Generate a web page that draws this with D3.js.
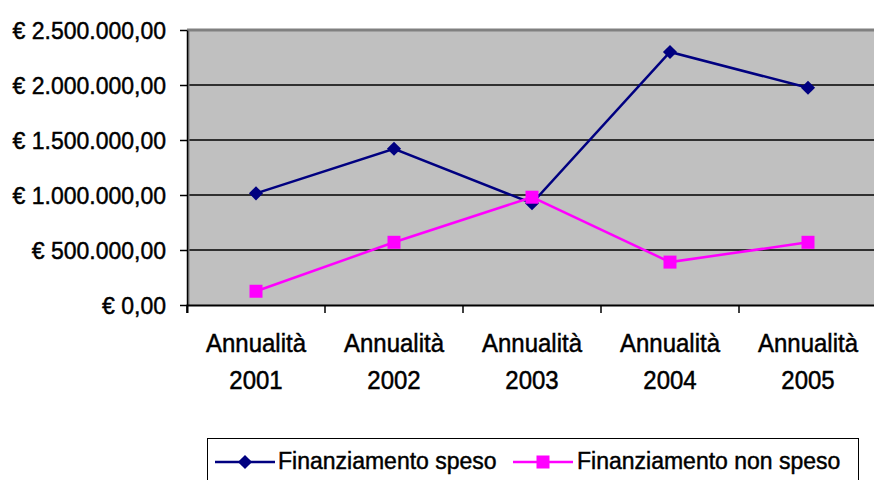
<!DOCTYPE html>
<html>
<head>
<meta charset="utf-8">
<script src="https://cdn.jsdelivr.net/npm/d3@7"></script>
<style>
  body { margin: 0; background: #fff; }
  svg text { font-family: "Liberation Sans", Arial, sans-serif; fill: #000; stroke: #000; stroke-width: 0.45px; }
</style>
</head>
<body>
<div id="chart"></div>
<script>
// data
var anni = ["2001", "2002", "2003", "2004", "2005"];
var speso = [1015000, 1420000, 925000, 2300000, 1975000];
var nonSpeso = [125000, 570000, 980000, 390000, 570000];
var yTicks = [0, 500000, 1000000, 1500000, 2000000, 2500000];

var W = 874, H = 480;
var pLeft = 187, pRight = 877, pTop = 30, pBottom = 305;

var svg = d3.select("#chart").append("svg")
    .attr("width", W).attr("height", H);

var x = d3.scaleBand().domain(anni).range([pLeft, pRight]);
var y = d3.scaleLinear().domain([0, 2500000]).range([pBottom, pTop]);

// euro format, italian style
var it = d3.formatLocale({decimal: ",", thousands: ".", grouping: [3], currency: ["€ ", ""]});
var fmt = function (v) { return "€ " + it.format(",.2f")(v); };

// plot area
svg.append("rect")
    .attr("x", pLeft).attr("y", pTop)
    .attr("width", pRight - pLeft).attr("height", pBottom - pTop)
    .attr("fill", "#c0c0c0");

// grid lines
svg.selectAll(".grid").data(yTicks.slice(1, -1)).enter().append("line")
    .attr("x1", pLeft).attr("x2", pRight)
    .attr("y1", function (d) { return y(d); }).attr("y2", function (d) { return y(d); })
    .attr("stroke", "#000").attr("stroke-width", 1.5);

// top border
svg.append("line")
    .attr("x1", pLeft).attr("x2", pRight).attr("y1", pTop).attr("y2", pTop)
    .attr("stroke", "#808080").attr("stroke-width", 3);

// left border gray
svg.append("line")
    .attr("x1", pLeft + 1.5).attr("x2", pLeft + 1.5).attr("y1", pTop).attr("y2", pBottom)
    .attr("stroke", "#808080").attr("stroke-width", 2);

// y axis
var yAxis = d3.axisLeft(y).tickValues(yTicks).tickSize(7).tickSizeOuter(0).tickFormat(fmt).tickPadding(14);
var gy = svg.append("g").attr("transform", "translate(" + pLeft + ",0)").call(yAxis);
gy.select(".domain").attr("stroke", "#000").attr("stroke-width", 1.5);
gy.selectAll(".tick line").attr("stroke", "#000").attr("stroke-width", 1.5);
gy.selectAll(".tick text")
    .style("font-size", "23px")
    .attr("dy", "0.36em");

// x axis
var xAxis = d3.axisBottom(x).tickSize(8).tickSizeOuter(8).tickFormat("");
var gx = svg.append("g").attr("transform", "translate(0," + pBottom + ")").call(xAxis);
gx.select(".domain").attr("stroke", "#000").attr("stroke-width", 2);
// category ticks sit on band edges
gx.selectAll(".tick").attr("transform", function (d) { return "translate(" + x(d) + ",0)"; });
gx.selectAll(".tick line").attr("stroke", "#000").attr("stroke-width", 1.5);

// two-line category labels, a bit taller like the original
var lab = svg.append("g").selectAll("g").data(anni).enter().append("g");
lab.append("text").attr("text-anchor", "middle")
    .attr("transform", function (d) { return "translate(" + (x(d) + x.bandwidth() / 2) + ",352) scale(1,1.1)"; })
    .style("font-size", "24px").text("Annualità");
lab.append("text").attr("text-anchor", "middle")
    .attr("transform", function (d) { return "translate(" + (x(d) + x.bandwidth() / 2) + ",389) scale(1,1.1)"; })
    .style("font-size", "24px").text(function (d) { return d; });

var cx = function (d, i) { return x(anni[i]) + x.bandwidth() / 2; };
var line = d3.line().x(cx).y(function (d) { return y(d); });

// series
svg.append("path").datum(speso).attr("d", line)
    .attr("fill", "none").attr("stroke", "#000080").attr("stroke-width", 2.5);
svg.append("path").datum(nonSpeso).attr("d", line)
    .attr("fill", "none").attr("stroke", "#ff00ff").attr("stroke-width", 2.5);

// excel-like diamond: square turned 45 degrees
var diamond = d3.symbol().type(d3.symbolSquare).size(100);
svg.selectAll(".pSpeso").data(speso).enter().append("path")
    .attr("d", diamond)
    .attr("transform", function (d, i) { return "translate(" + cx(d, i) + "," + y(d) + ") rotate(45)"; })
    .attr("fill", "#000080");

svg.selectAll(".pNon").data(nonSpeso).enter().append("rect")
    .attr("x", function (d, i) { return cx(d, i) - 6.5; })
    .attr("y", function (d) { return y(d) - 6.5; })
    .attr("width", 13).attr("height", 13)
    .attr("fill", "#ff00ff");

// legend
var lg = svg.append("g");
lg.append("rect").attr("x", 207.5).attr("y", 438.5).attr("width", 651).attr("height", 50)
    .attr("fill", "#fff").attr("stroke", "#000").attr("stroke-width", 1);

var legendItems = [
  {name: "Finanziamento speso", color: "#000080", x0: 215, tx: 278, shape: "d"},
  {name: "Finanziamento non speso", color: "#ff00ff", x0: 513, tx: 577, shape: "s"}
];
legendItems.forEach(function (it2) {
  lg.append("line").attr("x1", it2.x0).attr("x2", it2.x0 + 60).attr("y1", 462).attr("y2", 462)
      .attr("stroke", it2.color).attr("stroke-width", 2.5);
  if (it2.shape === "d") {
    lg.append("path").attr("d", diamond).attr("transform", "translate(" + (it2.x0 + 30) + ",462) rotate(45)")
        .attr("fill", it2.color);
  } else {
    lg.append("rect").attr("x", it2.x0 + 23.5).attr("y", 455.5).attr("width", 13).attr("height", 13)
        .attr("fill", it2.color);
  }
  lg.append("text").attr("x", it2.tx).attr("y", 469).style("font-size", "23px").text(it2.name);
});
</script>
</body>
</html>
